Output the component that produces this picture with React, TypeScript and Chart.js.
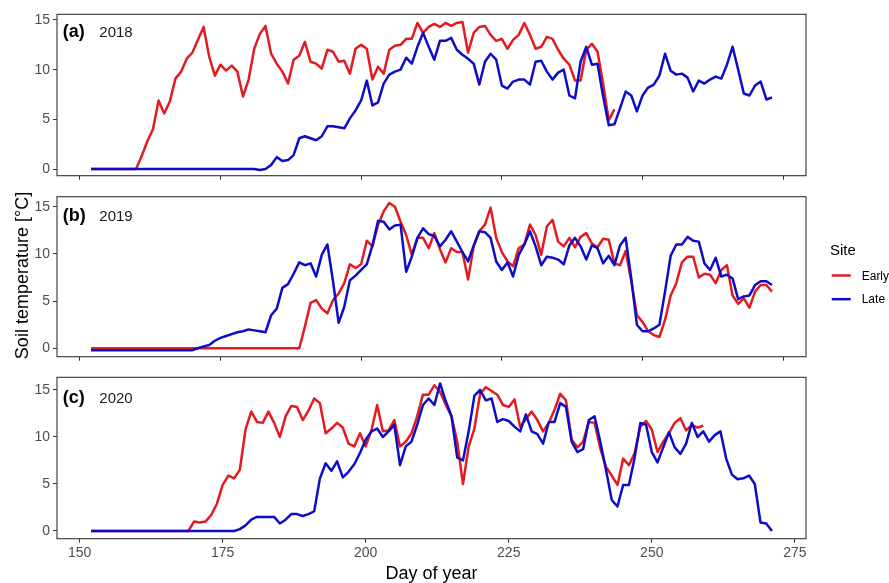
import { useEffect, useRef } from 'react';
import { Chart, registerables } from 'chart.js';

Chart.register(...registerables);

const FONT = '"Liberation Sans", Arial, Helvetica, sans-serif';
const RED = '#E31A1F';
const BLUE = '#0D0DC8';

const START_DAY = 152;
const X_TICK_STEP = 25;
const Y_TICK_STEP = 5;
const YEARS = ['2018', '2019', '2020'];
const PANEL_TAGS = ['(a)', '(b)', '(c)'];
const SITES = ['Early', 'Late'];

// Day 152 onwards, one value per day
const EARLY_2018: (number | null)[] = [
  0, 0, 0, 0, 0, 0, 0, 0, 0,
  1.3, 2.8, 4.0, 6.9, 5.6, 6.8, 9.1, 9.8, 11.1, 11.7,
  13.0, 14.3, 11.3, 9.4, 10.5, 9.9, 10.4, 9.8, 7.3, 9.0,
  12.1, 13.6, 14.4, 11.6, 10.6, 9.8, 8.6, 11.0, 11.4, 12.8,
  10.8, 10.6, 10.1, 12.0, 11.8, 10.8, 10.9, 9.6, 12.1, 12.5,
  12.1, 9.0, 10.3, 9.6, 12.0, 12.4, 12.5, 13.1, 13.1, 14.7,
  13.7, 14.3, 14.6, 14.3, 14.7, 14.4, 14.7, 14.8, 11.7, 13.7,
  14.3, 14.4, 13.5, 12.9, 13.1, 12.1, 13.0, 13.5, 14.7, 13.5,
  12.1, 12.3, 13.3, 13.1, 12.0, 11.1, 10.5, 8.9, 8.9, 12.0,
  12.6, 11.8, 8.6, 4.9, 6.0,
];
const LATE_2018: (number | null)[] = [
  0, 0, 0, 0, 0, 0, 0, 0, 0, 0, 0, 0, 0, 0, 0, 0, 0, 0, 0, 0, 0, 0, 0, 0, 0, 0, 0, 0, 0, 0,
  -0.1, 0.0, 0.4, 1.2, 0.8, 0.9, 1.4, 3.1, 3.3,
  3.1, 2.9, 3.3, 4.3, 4.3, 4.2, 4.1, 5.1, 5.9, 6.9,
  8.9, 6.4, 6.7, 8.6, 9.5, 9.8, 10.0, 11.2, 10.6, 12.3,
  13.7, 12.3, 11.0, 12.9, 12.9, 13.2, 12.0, 11.5, 11.1, 10.6,
  8.5, 10.8, 11.6, 11.0, 8.4, 8.1, 8.8, 9.0, 9.0, 8.5,
  10.8, 10.9, 9.8, 9.0, 9.7, 10.0, 7.4, 7.1, 10.8, 12.3,
  10.5, 10.6, 7.3, 4.4, 4.5, 6.1, 7.8, 7.4, 5.8, 7.4,
  8.2, 8.5, 9.4, 11.6, 9.9, 9.5, 9.6, 9.2, 7.8, 8.9,
  8.6, 9.0, 9.3, 9.1, 10.5, 12.3, 10.0, 7.6, 7.4, 8.4,
  8.8, 7.0, 7.2,
];
const EARLY_2019: (number | null)[] = [
  0, 0, 0, 0, 0, 0, 0, 0, 0, 0, 0, 0, 0, 0, 0, 0, 0, 0, 0,
  0, 0, 0, 0, 0, 0, 0, 0, 0, 0, 0, 0, 0, 0, 0, 0, 0, 0, 0,
  2.3,
  4.8, 5.1, 4.2, 3.7, 5.1, 5.8, 6.9, 8.9, 8.5, 8.9,
  11.4, 10.8, 13.1, 14.5, 15.4, 15.0, 13.4, 12.0, 9.9, 11.7,
  11.7, 10.6, 12.2, 10.5, 9.1, 10.6, 10.2, 10.2, 7.3, 10.8,
  12.4, 13.1, 14.9, 11.7, 10.2, 9.2, 8.7, 10.6, 11.0, 13.1,
  12.0, 9.9, 12.9, 13.6, 11.3, 10.8, 11.7, 10.7, 11.8, 12.2,
  11.1, 10.7, 11.6, 11.5, 9.0, 8.8, 10.3, 7.1, 3.5, 2.8,
  1.8, 1.4, 1.2, 3.0, 5.6, 6.9, 9.1, 9.7, 9.7, 7.5,
  7.9, 7.8, 6.9, 8.3, 8.8, 5.6, 4.7, 5.3, 4.3, 6.0,
  6.7, 6.7, 6.0,
];
const LATE_2019: (number | null)[] = [
  -0.2, -0.2, -0.2, -0.2, -0.2, -0.2, -0.2, -0.2, -0.2, -0.2,
  -0.2, -0.2, -0.2, -0.2, -0.2, -0.2, -0.2, -0.2, -0.2,
  0.0, 0.2, 0.35, 0.8, 1.1, 1.3, 1.5, 1.7, 1.8, 2.0,
  1.9, 1.8, 1.7, 3.5, 4.2, 6.4, 6.8, 7.9, 9.1, 8.8,
  9.0, 7.6, 9.9, 11.0, 7.1, 2.7, 4.4, 7.2, 7.7, 8.3,
  8.9, 10.9, 13.5, 13.4, 12.6, 13.0, 13.1, 8.1, 9.7, 11.7,
  12.7, 12.1, 11.9, 10.8, 11.5, 12.4, 11.3, 10.2, 9.2, 10.9,
  12.4, 12.3, 11.7, 9.2, 8.3, 9.1, 7.6, 9.9, 11.0, 12.4,
  10.8, 8.8, 9.7, 9.6, 9.4, 8.9, 10.9, 11.7, 10.8, 9.4,
  10.9, 10.6, 9.0, 9.8, 8.8, 10.9, 11.7, 7.4, 2.5, 1.8,
  1.8, 2.1, 2.5, 6.0, 9.8, 11.0, 11.0, 11.8, 11.4, 11.3,
  9.0, 8.3, 9.6, 7.6, 7.8, 7.4, 5.2, 5.5, 5.6, 6.7,
  7.1, 7.1, 6.7,
];
const EARLY_2020: (number | null)[] = [
  0, 0, 0, 0, 0, 0, 0, 0, 0, 0, 0, 0, 0, 0, 0, 0, 0, 0,
  1.0, 0.9, 1.0, 1.7, 2.9, 4.9, 5.9, 5.6, 6.5, 10.8,
  12.7, 11.6, 11.5, 12.7, 11.5, 10.0, 12.2, 13.3, 13.2, 11.8,
  12.8, 14.1, 13.6, 10.4, 10.9, 11.5, 11.0, 9.3, 9.0, 10.4,
  9.0, 10.7, 13.4, 10.6, 10.7, 11.8, 9.0, 9.5, 10.4, 12.2,
  14.5, 14.5, 15.5, 14.8, 13.4, 12.2, 9.5, 5.0, 9.0, 10.9,
  14.6, 15.3, 14.9, 14.5, 13.4, 13.2, 14.0, 11.1, 11.9, 12.7,
  11.8, 10.6, 11.5, 12.9, 14.6, 13.9, 9.7, 8.9, 9.5, 11.6,
  11.5, 8.8, 6.8, 5.9, 4.9, 7.7, 7.0, 8.3, 11.1, 11.7,
  10.8, 8.4, 9.5, 10.4, 11.5, 12.0, 10.7, 11.3, 11.0, 11.2,
];
const LATE_2020: (number | null)[] = [
  0, 0, 0, 0, 0, 0, 0, 0, 0, 0, 0, 0, 0, 0, 0, 0, 0, 0, 0, 0, 0, 0, 0, 0, 0, 0,
  0.2, 0.6, 1.2, 1.5, 1.5, 1.5, 1.5, 0.8, 1.2, 1.8,
  1.8, 1.6, 1.8, 2.1, 5.6, 7.2, 6.4, 7.4, 5.7, 6.3,
  7.1, 8.3, 9.7, 10.6, 10.9, 10.0, 10.6, 11.3, 7.0, 9.0,
  9.5, 11.3, 13.4, 14.1, 13.4, 15.7, 13.8, 12.2, 7.8, 7.5,
  10.6, 14.4, 15.0, 13.9, 14.1, 11.6, 11.9, 11.7, 11.1, 10.6,
  12.4, 10.6, 10.3, 9.3, 11.6, 11.6, 13.6, 13.2, 9.5, 8.4,
  8.7, 11.8, 12.2, 9.5, 6.5, 3.3, 2.6, 4.9, 4.9, 7.8,
  11.5, 11.3, 8.4, 7.3, 8.9, 10.5, 8.9, 8.2, 9.3, 11.5,
  10.0, 10.6, 9.5, 10.2, 10.6, 7.7, 6.0, 5.5, 5.6, 5.9,
  5.0, 0.9, 0.8, 0.0,
];

const EARLY = [EARLY_2018, EARLY_2019, EARLY_2020];
const LATE = [LATE_2018, LATE_2019, LATE_2020];

// layout (page pixels)
const W = 889;
const AREA_LEFT = 57;
const AREA_RIGHT = 806;
const LAYOUT = [
  { top: 0, height: 183, areaTop: 14.3, areaBottom: 175.7, xMin: 145.95, xMax: 279.05, yMin: -0.67, yMax: 15.57, tagBase: 36.5, showX: false },
  { top: 183, height: 182, areaTop: 13.7, areaBottom: 173.7, xMin: 145.95, xMax: 279.05, yMin: -0.89, yMax: 16.06, tagBase: 38, showX: false },
  { top: 365, height: 218, areaTop: 12.3, areaBottom: 173.7, xMin: 146.05, xMax: 276.95, yMin: -0.82, yMax: 16.35, tagBase: 38, showX: true },
];

function toPoints(values: (number | null)[]) {
  return values.map((v, i) => ({ x: START_DAY + i, y: v }));
}

function Panel({ idx }: { idx: number }) {
  const ref = useRef<HTMLCanvasElement>(null);
  const L = LAYOUT[idx];
  useEffect(() => {
    const deco = {
      id: 'deco' + idx,
      afterDraw(chart: any) {
        const { ctx, chartArea: a } = chart;
        ctx.save();
        ctx.strokeStyle = '#333333';
        ctx.lineWidth = 1.1;
        ctx.strokeRect(a.left, a.top, a.right - a.left, a.bottom - a.top);
        ctx.fillStyle = '#000';
        ctx.textBaseline = 'alphabetic';
        ctx.textAlign = 'left';
        ctx.font = `bold 18px ${FONT}`;
        ctx.fillText(PANEL_TAGS[idx], 62.7, L.tagBase);
        ctx.fillStyle = '#1a1a1a';
        ctx.font = `15px ${FONT}`;
        ctx.fillText(YEARS[idx], 99.3, L.tagBase);
        if (idx === 1) {
          // y-axis title
          ctx.save();
          ctx.translate(27.5, 92.5);
          ctx.rotate(-Math.PI / 2);
          ctx.textAlign = 'center';
          ctx.fillStyle = '#000';
          ctx.font = `18px ${FONT}`;
          ctx.fillText('Soil temperature [°C]', 0, 0);
          ctx.restore();
          // legend
          ctx.fillStyle = '#000';
          ctx.font = `15px ${FONT}`;
          ctx.textAlign = 'left';
          ctx.fillText('Site', 830, 72);
          const rows = [
            { c: RED, ly: 92.5, ty: 96.5 },
            { c: BLUE, ly: 116.2, ty: 120.3 },
          ];
          rows.forEach((r, i) => {
            ctx.strokeStyle = r.c;
            ctx.lineWidth = 2.5;
            ctx.beginPath();
            ctx.moveTo(831.7, r.ly);
            ctx.lineTo(850.7, r.ly);
            ctx.stroke();
            ctx.fillStyle = '#000';
            ctx.font = `12px ${FONT}`;
            ctx.fillText(SITES[i], 861.7, r.ty);
          });
        }
        if (idx === 2) {
          ctx.fillStyle = '#000';
          ctx.font = `18px ${FONT}`;
          ctx.textAlign = 'center';
          ctx.fillText('Day of year', (AREA_LEFT + AREA_RIGHT) / 2, 214);
        }
        ctx.restore();
      },
    };
    const chart = new Chart(ref.current!, {
      type: 'line',
      data: {
        datasets: [
          {
            label: SITES[0],
            data: toPoints(EARLY[idx]),
            borderColor: RED,
            backgroundColor: RED,
            borderWidth: 2.5,
            pointRadius: 0,
            tension: 0,
            borderJoinStyle: 'round',
            order: 2,
          },
          {
            label: SITES[1],
            data: toPoints(LATE[idx]),
            borderColor: BLUE,
            backgroundColor: BLUE,
            borderWidth: 2.5,
            pointRadius: 0,
            tension: 0,
            borderJoinStyle: 'round',
            order: 1,
          },
        ],
      },
      options: {
        animation: false,
        responsive: true,
        maintainAspectRatio: false,
        events: [],
        layout: { padding: { left: 0, right: W - AREA_RIGHT, top: L.areaTop, bottom: 0 } },
        scales: {
          x: {
            type: 'linear',
            min: L.xMin,
            max: L.xMax,
            afterFit: (s: any) => {
              s.height = L.height - L.areaBottom;
              s.paddingLeft = 0;
              s.paddingRight = 0;
            },
            border: { display: false },
            grid: {
              display: true,
              drawOnChartArea: false,
              drawTicks: true,
              tickLength: 4,
              color: '#333333',
              tickColor: '#333333',
              tickWidth: 1,
            },
            ticks: {
              display: L.showX,
              stepSize: X_TICK_STEP,
              includeBounds: false,
              autoSkip: false,
              maxRotation: 0,
              padding: 2,
              color: '#4d4d4d',
              font: { family: FONT, size: 14 },
            },
          },
          y: {
            type: 'linear',
            min: L.yMin,
            max: L.yMax,
            afterFit: (s: any) => {
              s.width = AREA_LEFT;
              s.paddingTop = 0;
              s.paddingBottom = 0;
            },
            border: { display: false },
            grid: {
              display: true,
              drawOnChartArea: false,
              drawTicks: true,
              tickLength: 4,
              color: '#333333',
              tickColor: '#333333',
              tickWidth: 1,
            },
            ticks: {
              stepSize: Y_TICK_STEP,
              includeBounds: false,
              padding: 3,
              color: '#4d4d4d',
              font: { family: FONT, size: 14 },
            },
          },
        },
        plugins: { legend: { display: false }, tooltip: { enabled: false } },
      },
      plugins: [deco],
    } as any);
    return () => chart.destroy();
  }, [idx]);
  return (
    <div style={{ position: 'absolute', left: 0, top: L.top, width: W, height: L.height }}>
      <canvas ref={ref} />
    </div>
  );
}

export default function App() {
  return (
    <div style={{ position: 'absolute', left: 0, top: 0, width: W, height: 583, background: '#fff', overflow: 'hidden' }}>
      <Panel idx={0} />
      <Panel idx={1} />
      <Panel idx={2} />
    </div>
  );
}
